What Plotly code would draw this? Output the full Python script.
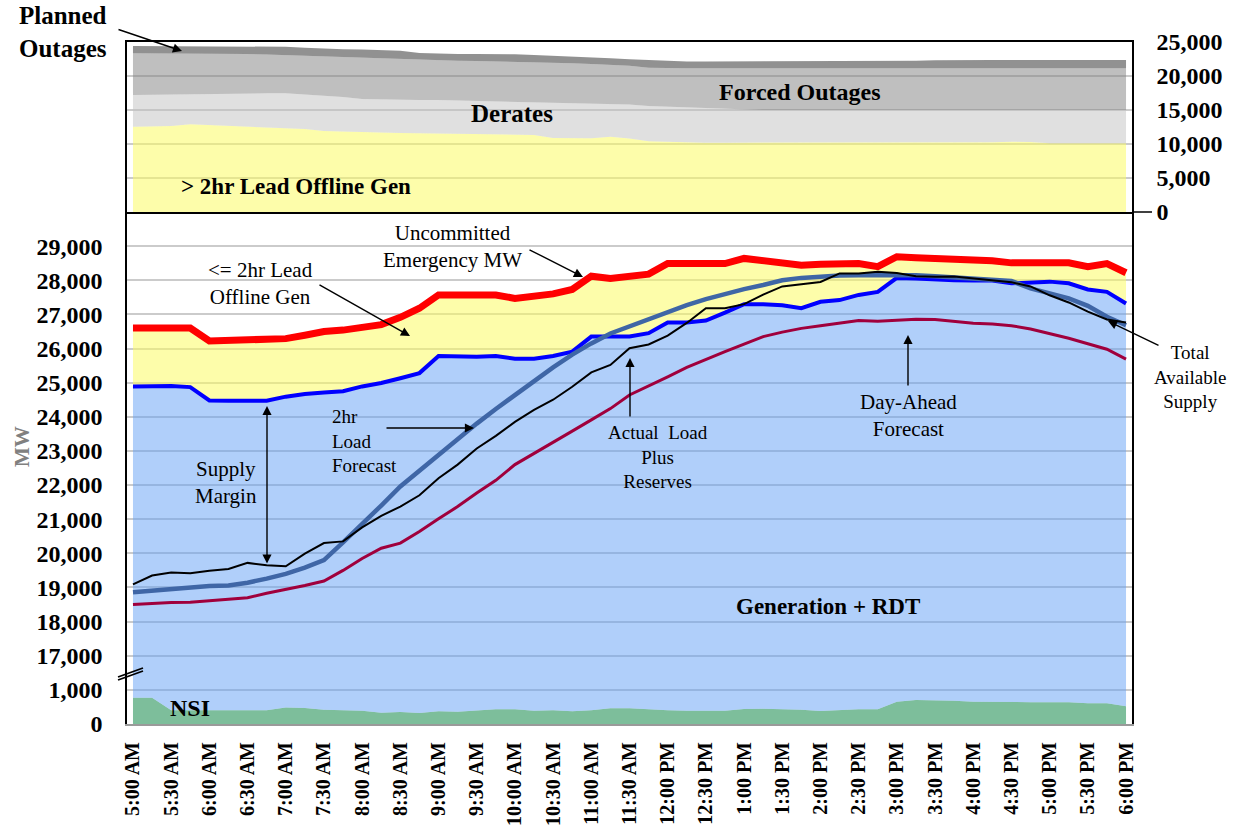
import plotly.graph_objects as go
import pandas as pd

FONT = "Liberation Serif, Times New Roman, serif"
W, H = 1244, 825
L, R, T, B = 127, 112, 42, 101
PW = W - L - R
PH = H - T - B

def px(x):
    return (x - L) / PW

def py(y):
    return (H - B - y) / PH

# ---------------- data (15-minute samples, 5:00 AM .. 6:00 PM) ----------------
times = pd.date_range("2024-01-01 05:00", "2024-01-01 18:00", freq="15min")

tick_labels = ["5:00 AM", "5:30 AM", "6:00 AM", "6:30 AM", "7:00 AM", "7:30 AM", "8:00 AM",
               "8:30 AM", "9:00 AM", "9:30 AM", "10:00 AM", "10:30 AM", "11:00 AM", "11:30 AM",
               "12:00 PM", "12:30 PM", "1:00 PM", "1:30 PM", "2:00 PM", "2:30 PM", "3:00 PM",
               "3:30 PM", "4:00 PM", "4:30 PM", "5:00 PM", "5:30 PM", "6:00 PM"]
tick_times = pd.date_range("2024-01-01 05:00", "2024-01-01 18:00", freq="30min")

# Top panel (MW, stacked)
offline_gt2hr = [12550, 12600, 12650, 12900, 12800, 12650, 12600, 12500, 12350, 12200, 11900, 11810,
                 11810, 11700, 11600, 11570, 11550, 11500, 11450, 11420, 11380, 11340, 10900, 10830,
                 10830, 11050, 10800, 10400, 10300, 10250, 10200, 10200, 10200, 10200, 10200, 10200,
                 10200, 10200, 10200, 10200, 10200, 10200, 10200, 10200, 10200, 10250, 10340, 10300,
                 10100, 10100, 10100, 10100, 10100]
derates = [4650, 4650, 4650, 4400, 4550, 4700, 4800, 4950, 5100, 5100, 5200, 5090, 4810, 4850, 4870,
           4900, 4920, 4900, 4850, 4830, 4820, 4810, 5200, 5170, 5120, 4850, 5000, 5200, 5200, 5150,
           5100, 4950, 4800, 4800, 4800, 4800, 4800, 4800, 4800, 4800, 4800, 4800, 4800, 4800, 4800,
           4750, 4660, 4700, 4900, 4900, 4900, 4900, 4900]
forced_outages = [6150, 6100, 6050, 6050, 5990, 5980, 5850, 5700, 5600, 5700, 5850, 5940, 6080, 6000,
                  5980, 5880, 5830, 5850, 5900, 5900, 5900, 5850, 5850, 5870, 5800, 5700, 5700, 5600,
                  5630, 5730, 5830, 5980, 6130, 6130, 6130, 6130, 6130, 6130, 6130, 6130, 6130, 6130,
                  6130, 6130, 6130, 6130, 6130, 6130, 6150, 6150, 6150, 6150, 6150]
planned_outages = [1050, 1050, 1050, 1030, 1020, 1010, 1080, 1170, 1250, 1150, 1050, 1080, 1180, 1270,
                   1250, 1050, 980, 1000, 1050, 1100, 1100, 1100, 1050, 980, 970, 1000, 980, 1150, 1070,
                   1020, 1020, 1020, 1020, 1020, 1020, 1020, 1020, 1020, 1020, 1070, 1070, 1120, 1170,
                   1220, 1220, 1220, 1220, 1220, 1200, 1200, 1200, 1200, 1200]

# Bottom panel (MW)
emergency_top = [26600, 26600, 26600, 26600, 26220, 26230, 26230, 26250, 26290, 26390, 26500, 26540,
                 26640, 26700, 26915, 27180, 27570, 27570, 27600, 27570, 27470, 27540, 27600, 27730,
                 28120, 28050, 28100, 28180, 28490, 28490, 28490, 28490, 28640, 28590, 28540, 28440,
                 28470, 28470, 28490, 28400, 28690, 28660, 28640, 28640, 28610, 28570, 28510, 28510,
                 28540, 28510, 28400, 28490, 28220]
generation_rdt = [24890, 24900, 24900, 24870, 24480, 24470, 24470, 24470, 24590, 24670, 24710, 24750,
                  24890, 24990, 25130, 25280, 25780, 25760, 25760, 25780, 25700, 25700, 25780, 25910,
                  26350, 26350, 26350, 26450, 26760, 26760, 26820, 27050, 27300, 27300, 27270, 27180,
                  27370, 27420, 27570, 27660, 28070, 28050, 28020, 28000, 27990, 27990, 27910, 27940,
                  27960, 27910, 27730, 27660, 27320]
load_forecast_2hr = [18860, 18910, 18940, 18980, 19040, 19060, 19140, 19260, 19400, 19580, 19800, 20320,
                     20840, 21400, 21960, 22430, 22890, 23350, 23800, 24230, 24650, 25060, 25450, 25820,
                     26150, 26440, 26650, 26870, 27060, 27270, 27450, 27600, 27740, 27860, 28000, 28070,
                     28110, 28140, 28150, 28160, 28160, 28150, 28120, 28090, 28060, 28020, 27980, 27760,
                     27600, 27470, 27250, 26930, 26680]
actual_load_reserves = [19090, 19350, 19440, 19420, 19490, 19540, 19720, 19650, 19620, 19990, 20300,
                        20350, 20760, 21100, 21370, 21700, 22200, 22600, 23070, 23440, 23850, 24200,
                        24500, 24880, 25300, 25520, 26010, 26120, 26380, 26750, 27180, 27180, 27300,
                        27580, 27820, 27880, 27950, 28200, 28200, 28250, 28210, 28120, 28100, 28110,
                        28050, 28010, 27940, 27820, 27560, 27350, 27080, 26850, 26760]
day_ahead_forecast = [18500, 18540, 18560, 18570, 18610, 18650, 18700, 18830, 18940, 19060, 19190, 19500,
                      19850, 20150, 20300, 20640, 21010, 21370, 21770, 22140, 22600, 22920, 23240, 23580,
                      23910, 24240, 24640, 24900, 25170, 25450, 25690, 25910, 26130, 26350, 26480, 26590,
                      26670, 26750, 26820, 26800, 26840, 26860, 26850, 26800, 26740, 26720, 26670, 26570,
                      26440, 26300, 26140, 25980, 25690]
nsi = [770, 770, 400, 400, 400, 400, 400, 400, 480, 470, 420, 400, 390, 330, 350, 320, 370, 360, 390,
       430, 430, 390, 400, 370, 400, 460, 460, 420, 400, 390, 380, 390, 440, 450, 430, 420, 380, 410,
       430, 430, 650, 700, 700, 680, 650, 640, 640, 640, 640, 640, 610, 610, 520]

# broken axis: values 0..1000 drawn just below 17,000
BREAK_BASE = 15000
y_tick_vals = [15000, 16000] + list(range(17000, 30000, 1000))
y_tick_text = ["0", "1,000"] + [f"{v:,}" for v in range(17000, 30000, 1000)]

# ---------------- figure ----------------
fig = go.Figure()
nsi_disp = [BREAK_BASE + v for v in nsi]
base = [BREAK_BASE] * len(times)

fig.add_trace(go.Scatter(x=times, y=base, mode="lines", line=dict(width=0), hoverinfo="skip"))
fig.add_trace(go.Scatter(x=times, y=nsi_disp, mode="lines", line=dict(width=0), fill="tonexty",
                         fillcolor="#7DBE9B", name="NSI"))
fig.add_trace(go.Scatter(x=times, y=generation_rdt, mode="lines", line=dict(width=0), fill="tonexty",
                         fillcolor="rgba(97,159,245,0.5)", name="Generation + RDT"))
fig.add_trace(go.Scatter(x=times, y=emergency_top, mode="lines", line=dict(width=0), fill="tonexty",
                         fillcolor="rgba(251,251,100,0.55)", name="<= 2hr Lead Offline Gen"))
fig.add_trace(go.Scatter(x=times, y=emergency_top, mode="lines", line=dict(color="#FF0000", width=7),
                         name="Uncommitted Emergency MW"))
fig.add_trace(go.Scatter(x=times, y=generation_rdt, mode="lines", line=dict(color="#0000FF", width=4),
                         name="Total Available Supply"))
fig.add_trace(go.Scatter(x=times, y=day_ahead_forecast, mode="lines", line=dict(color="#A0003C", width=3),
                         name="Day-Ahead Forecast"))
fig.add_trace(go.Scatter(x=times, y=load_forecast_2hr, mode="lines", line=dict(color="#3F66A6", width=4.5),
                         name="2hr Load Forecast"))
fig.add_trace(go.Scatter(x=times, y=actual_load_reserves, mode="lines", line=dict(color="#000000", width=2),
                         name="Actual Load Plus Reserves"))

top_series = [(offline_gt2hr, "rgba(251,251,100,0.55)", "> 2hr Lead Offline Gen"),
              (derates, "rgba(193,193,193,0.5)", "Derates"),
              (forced_outages, "rgba(127,127,127,0.5)", "Forced Outages"),
              (planned_outages, "rgba(55,55,55,0.55)", "Planned Outages")]
for vals, col, nm in top_series:
    fig.add_trace(go.Scatter(x=times, y=vals, mode="lines", line=dict(width=0), stackgroup="top",
                             fillcolor=col, name=nm, xaxis="x2", yaxis="y2"))

split = (724 - 212) / PH
x_range = ["2024-01-01 04:55:18", "2024-01-01 18:04:42"]
GRID = "#CBCBCB"

fig.update_layout(
    width=W, height=H, showlegend=False, hovermode=False,
    paper_bgcolor="white", plot_bgcolor="white",
    margin=dict(l=L, r=R, t=T, b=B, autoexpand=False),
    font=dict(family=FONT, color="black"),
    xaxis=dict(domain=[0, 1], anchor="y", range=x_range, tickvals=tick_times,
               ticktext=[f"<b>{s}</b>" for s in tick_labels], tickangle=-90,
               tickfont=dict(family=FONT, size=20, color="black"), ticks="", ticklabelstandoff=8,
               showgrid=False, zeroline=False, showline=True, linecolor="#9A9A9A", linewidth=2,
               automargin=False),
    yaxis=dict(domain=[0, split], anchor="x", range=[15000, 30000], tickvals=y_tick_vals,
               ticktext=[f"<b>{s}</b>" for s in y_tick_text],
               tickfont=dict(family=FONT, size=24, color="black"), ticks="", ticklabelstandoff=18,
               showgrid=True, gridcolor=GRID, gridwidth=1.5, zeroline=False,
               showline=True, linecolor="black", linewidth=1.5, mirror=True, automargin=False),
    xaxis2=dict(domain=[0, 1], anchor="y2", matches="x", range=x_range, showticklabels=False,
                ticks="", showgrid=False, zeroline=False, showline=True, linecolor="black",
                linewidth=1.5, mirror=True, automargin=False),
    yaxis2=dict(domain=[split, 1], anchor="x2", side="right", range=[0, 25000],
                tickvals=[0, 5000, 10000, 15000, 20000, 25000],
                ticktext=["<b>0</b>", "<b>5,000</b>", "<b>10,000</b>", "<b>15,000</b>",
                          "<b>20,000</b>", "<b>25,000</b>"],
                tickfont=dict(family=FONT, size=24, color="black"), ticks="", ticklabelstandoff=18,
                showgrid=True, gridcolor=GRID, gridwidth=1.5, zeroline=False,
                showline=True, linecolor="black", linewidth=1.5, mirror=True, automargin=False),
)

# ---------------- annotations ----------------
def txt(s, x, y, size=20, bold=False, xanchor="center", color="black", angle=0, align="center"):
    fig.add_annotation(text=f"<b>{s}</b>" if bold else s, x=px(x), y=py(y), xref="paper",
                       yref="paper", showarrow=False, xanchor=xanchor, yanchor="middle",
                       align=align, font=dict(family=FONT, size=size, color=color), textangle=angle)

def arrow(x0, y0, x1, y1, both=False):
    fig.add_annotation(text="", x=px(x1), y=py(y1), xref="paper", yref="paper",
                       ax=x0 - x1, ay=y0 - y1, axref="pixel", ayref="pixel", showarrow=True,
                       arrowhead=2, startarrowhead=2, arrowsize=1.3, startarrowsize=1.3,
                       arrowwidth=1.4, arrowcolor="black",
                       arrowside="end+start" if both else "end")

txt("Planned<br>Outages", 63, 32, size=25, bold=True)
arrow(117, 29, 182, 51)
txt("Forced Outages", 800, 92, size=24, bold=True)
txt("Derates", 512, 113, size=25, bold=True)
txt("&gt; 2hr Lead Offline Gen", 296, 186, size=23, bold=True)

txt("Uncommitted<br>Emergency MW", 452, 247, size=21)
arrow(528, 249, 583, 277)

txt("&lt;= 2hr Lead<br>Offline Gen", 260, 283, size=21)
arrow(318, 284, 410, 336)

txt("2hr<br>Load<br>Forecast", 330, 441, size=19, xanchor="left", align="left")
arrow(385, 428, 474, 428)

txt("Supply<br>Margin", 226, 482, size=21)
arrow(267, 565, 267, 406, both=True)

txt("Actual  Load<br>Plus<br>Reserves", 658, 457, size=19)
arrow(630, 418, 630, 358)

txt("Day-Ahead<br>Forecast", 908, 416, size=21)
arrow(908, 387, 908, 335)

txt("Total<br>Available<br>Supply", 1190, 377, size=19)
arrow(1160, 346, 1108, 321)

txt("Generation + RDT", 828, 606, size=23, bold=True)
txt("NSI", 190, 708, size=24, bold=True)
txt("MW", 22, 447, size=21, bold=True, color="#808080", angle=-90)

# axis break marks and the zero tick of the upper panel
for dy in (0, 3):
    fig.add_shape(type="line", xref="paper", yref="paper", x0=px(118), y0=py(677 + dy),
                  x1=px(143), y1=py(668 + dy), line=dict(color="black", width=1.8))
fig.add_shape(type="line", xref="paper", yref="paper", x0=px(1132), y0=py(212),
              x1=px(1152), y1=py(212), line=dict(color="black", width=1.5))

fig.write_html("out.html", config={"displayModeBar": False},
               post_script="document.body.style.margin='0px';document.body.style.overflow='hidden';")
